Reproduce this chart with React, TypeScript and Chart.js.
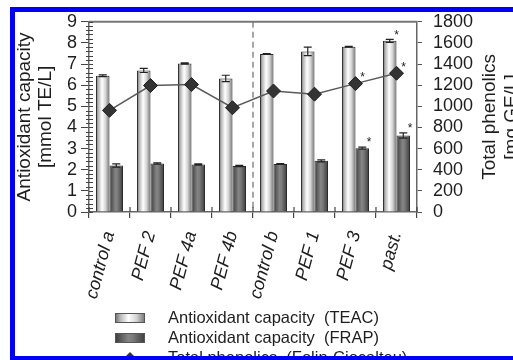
import React, { useEffect, useRef } from 'react';
import { Chart, registerables } from 'chart.js';

Chart.register(...registerables);

const categories = ['control a', 'PEF 2', 'PEF 4a', 'PEF 4b', 'control b', 'PEF 1', 'PEF 3', 'past.'];
const teac = [6.45, 6.7, 7.03, 6.32, 7.48, 7.6, 7.82, 8.1];
const teacErr = [0.04, 0.1, 0.03, 0.15, 0.02, 0.2, 0.02, 0.07];
const frap = [2.2, 2.3, 2.25, 2.18, 2.27, 2.42, 3.02, 3.62];
const frapErr = [0.08, 0.03, 0.03, 0.03, 0.02, 0.05, 0.05, 0.12];
const phenolics = [962, 1197, 1206, 987, 1145, 1115, 1215, 1313];
const teacSig = [false, false, false, false, false, false, false, true];
const frapSig = [false, false, false, false, false, false, true, true];
const phenSig = [false, false, false, false, false, false, true, true];
const leftMax = 9;
const leftStep = 1;
const rightMax = 1800;
const rightStep = 200;
const dividerAfterIndex = 3;
const leftTitle = ['Antioxidant capacity', '[mmol TE/L]'];
const rightTitle = ['Total phenolics', '[mg GE/L]'];
const legendLabels = [
  'Antioxidant capacity  (TEAC)',
  'Antioxidant capacity  (FRAP)',
  'Total phenolics  (Folin-Ciocalteu)',
];

const FONT = '"Liberation Sans", Arial, sans-serif';
const W = 513;
const H = 360;

function teacGradient(ctx: CanvasRenderingContext2D, x0: number, x1: number) {
  const g = ctx.createLinearGradient(x0, 0, x1, 0);
  g.addColorStop(0, '#6a6a6a');
  g.addColorStop(0.18, '#b8b8b8');
  g.addColorStop(0.45, '#ffffff');
  g.addColorStop(0.72, '#d2d2d2');
  g.addColorStop(1, '#707070');
  return g;
}
function frapGradient(ctx: CanvasRenderingContext2D, x0: number, x1: number) {
  const g = ctx.createLinearGradient(x0, 0, x1, 0);
  g.addColorStop(0, '#3c3c3c');
  g.addColorStop(0.45, '#858585');
  g.addColorStop(0.6, '#7a7a7a');
  g.addColorStop(1, '#3c3c3c');
  return g;
}

const decorPlugin = {
  id: 'decor',
  afterDatasetsUpdate(chart: any) {
    const ctx = chart.ctx;
    [1, 2].forEach((di) => {
      const meta = chart.getDatasetMeta(di);
      meta.data.forEach((el: any) => {
        const x0 = el.x - el.width / 2;
        const x1 = el.x + el.width / 2;
        const bg = di === 1 ? teacGradient(ctx, x0, x1) : frapGradient(ctx, x0, x1);
        el.options = { ...el.options, backgroundColor: bg };
      });
    });
  },
  beforeDatasetsDraw(chart: any) {
    const ctx = chart.ctx;
    const { top, bottom } = chart.chartArea;
    const xs = chart.scales.x;
    const xd = (xs.getPixelForValue(dividerAfterIndex) + xs.getPixelForValue(dividerAfterIndex + 1)) / 2;
    ctx.save();
    ctx.strokeStyle = '#8a8a8a';
    ctx.lineWidth = 1.5;
    ctx.setLineDash([6, 4]);
    ctx.beginPath();
    ctx.moveTo(xd, top);
    ctx.lineTo(xd, bottom);
    ctx.stroke();
    ctx.restore();
  },
  afterDatasetsDraw(chart: any) {
    const ctx = chart.ctx;
    const ys = chart.scales.y;
    ctx.save();
    ctx.strokeStyle = '#222';
    ctx.lineWidth = 1.2;
    const errs = [teacErr, frapErr];
    const vals = [teac, frap];
    [1, 2].forEach((di, k) => {
      const meta = chart.getDatasetMeta(di);
      meta.data.forEach((el: any, i: number) => {
        const yHi = ys.getPixelForValue(vals[k][i] + errs[k][i]);
        const yLo = ys.getPixelForValue(vals[k][i] - errs[k][i]);
        ctx.beginPath();
        ctx.moveTo(el.x, yHi);
        ctx.lineTo(el.x, yLo);
        ctx.moveTo(el.x - 4, yHi);
        ctx.lineTo(el.x + 4, yHi);
        ctx.moveTo(el.x - 4, yLo);
        ctx.lineTo(el.x + 4, yLo);
        ctx.stroke();
      });
    });
    ctx.fillStyle = '#222';
    ctx.font = `12px ${FONT}`;
    ctx.textAlign = 'center';
    ctx.textBaseline = 'middle';
    const sigs = [teacSig, frapSig];
    [1, 2].forEach((di, k) => {
      const meta = chart.getDatasetMeta(di);
      meta.data.forEach((el: any, i: number) => {
        if (!sigs[k][i]) return;
        const yTop = ys.getPixelForValue(vals[k][i] + errs[k][i]);
        ctx.fillText('*', el.x + el.width / 2, yTop - 4);
      });
    });
    const lm = chart.getDatasetMeta(0);
    lm.data.forEach((pt: any, i: number) => {
      if (!phenSig[i]) return;
      ctx.fillText('*', pt.x + 7, pt.y - 6);
    });
    ctx.restore();
  },
  afterDraw(chart: any) {
    const ctx = chart.ctx;
    const { left, right, top, bottom } = chart.chartArea;
    const ys = chart.scales.y;
    const xs = chart.scales.x;
    ctx.save();
    ctx.strokeStyle = '#777';
    ctx.lineWidth = 2;
    ctx.beginPath();
    ctx.moveTo(left, top);
    ctx.lineTo(right, top);
    ctx.stroke();
    ctx.strokeStyle = '#444';
    ctx.lineWidth = 1;
    for (let i = 0; i <= leftMax * 5; i++) {
      const y = Math.round(ys.getPixelForValue(i * 0.2)) + 0.5;
      ctx.beginPath();
      if (i % 5 === 0) {
        ctx.moveTo(left, y);
        ctx.lineTo(left + 4, y);
      } else {
        ctx.moveTo(left - 3, y);
        ctx.lineTo(left + 4, y);
      }
      ctx.stroke();
    }
    ctx.lineWidth = 1.2;
    for (let k = 0; k <= categories.length; k++) {
      let x;
      if (k === 0) x = left;
      else if (k === categories.length) x = right;
      else x = (xs.getPixelForValue(k - 1) + xs.getPixelForValue(k)) / 2;
      ctx.beginPath();
      ctx.moveTo(x, bottom);
      ctx.lineTo(x, bottom - 5);
      ctx.stroke();
    }
    ctx.fillStyle = '#1e1e1e';
    ctx.font = `19px ${FONT}`;
    ctx.textAlign = 'center';
    ctx.textBaseline = 'middle';
    const cy = (top + bottom) / 2;
    const drawRot = (text: string, x: number) => {
      ctx.save();
      ctx.translate(x, cy);
      ctx.rotate(-Math.PI / 2);
      ctx.fillText(text, 0, 0);
      ctx.restore();
    };
    drawRot(leftTitle[0], 25);
    drawRot(leftTitle[1], 46);
    drawRot(rightTitle[0], 490);
    drawRot(rightTitle[1], 512);
    const sx = 115;
    const sw = 30;
    const tx = 168;
    const rows = [318, 338, 358];
    ctx.font = `16.5px ${FONT}`;
    ctx.textAlign = 'left';
    rows.forEach((ry, i) => {
      if (i < 2) {
        ctx.fillStyle = i === 0 ? teacGradient(ctx, sx, sx + sw) : frapGradient(ctx, sx, sx + sw);
        ctx.fillRect(sx, ry - 5, sw, 10);
        ctx.strokeStyle = '#555';
        ctx.lineWidth = 1;
        ctx.strokeRect(sx + 0.5, ry - 4.5, sw - 1, 9);
      } else {
        ctx.strokeStyle = '#555';
        ctx.lineWidth = 1.5;
        ctx.beginPath();
        ctx.moveTo(sx, ry);
        ctx.lineTo(sx + sw, ry);
        ctx.stroke();
        ctx.fillStyle = '#333';
        ctx.beginPath();
        ctx.moveTo(sx + sw / 2, ry - 6);
        ctx.lineTo(sx + sw / 2 + 6, ry);
        ctx.lineTo(sx + sw / 2, ry + 6);
        ctx.lineTo(sx + sw / 2 - 6, ry);
        ctx.closePath();
        ctx.fill();
      }
      ctx.fillStyle = '#1e1e1e';
      ctx.fillText(legendLabels[i], tx, ry);
    });
    ctx.restore();
  },
};

export default function App() {
  const ref = useRef<HTMLCanvasElement | null>(null);
  useEffect(() => {
    if (!ref.current) return;
    const chart = new Chart(ref.current, {
      type: 'bar',
      data: {
        labels: categories,
        datasets: [
          {
            type: 'line',
            label: legendLabels[2],
            data: phenolics,
            yAxisID: 'y1',
            borderColor: '#5a5a5a',
            borderWidth: 1.5,
            pointStyle: 'rectRot',
            pointRadius: 7,
            pointBackgroundColor: '#333',
            pointBorderColor: '#222',
            pointBorderWidth: 1,
            tension: 0,
            order: 0,
          } as any,
          {
            type: 'bar',
            label: legendLabels[0],
            data: teac,
            yAxisID: 'y',
            backgroundColor: '#ddd',
            borderColor: '#2a2a2a',
            borderWidth: 1,
            categoryPercentage: 0.66,
            barPercentage: 1,
            order: 1,
          },
          {
            type: 'bar',
            label: legendLabels[1],
            data: frap,
            yAxisID: 'y',
            backgroundColor: '#777',
            borderColor: '#2a2a2a',
            borderWidth: 1,
            categoryPercentage: 0.66,
            barPercentage: 1,
            order: 2,
          },
        ],
      },
      options: {
        animation: false,
        responsive: false,
        devicePixelRatio: 1,
        layout: { padding: { top: 14, left: 0, right: 0, bottom: 0 } },
        plugins: { legend: { display: false }, tooltip: { enabled: false } },
        scales: {
          x: {
            type: 'category',
            offset: true,
            afterFit: (s: any) => {
              s.height = H - 212;
            },
            grid: { offset: true, drawOnChartArea: false, drawTicks: true, tickLength: 6, color: '#444', lineWidth: 1.2 },
            border: { color: '#666', width: 1.5 },
            ticks: {
              autoSkip: false,
              minRotation: 75,
              maxRotation: 75,
              padding: 11,
              color: '#1e1e1e',
              font: { family: FONT, size: 18, style: 'italic' },
            },
          },
          y: {
            position: 'left',
            min: 0,
            max: leftMax,
            afterFit: (s: any) => {
              s.width = 89;
            },
            grid: { drawOnChartArea: false, drawTicks: true, tickLength: 8, color: '#444' },
            border: { color: '#666', width: 1.5 },
            ticks: {
              stepSize: leftStep,
              autoSkip: false,
              padding: 4,
              color: '#1e1e1e',
              font: { family: FONT, size: 18 },
              callback: (v: any) => String(v),
            },
          },
          y1: {
            position: 'right',
            min: 0,
            max: rightMax,
            afterFit: (s: any) => {
              s.width = W - 417;
            },
            grid: { drawOnChartArea: false, drawTicks: true, tickLength: 5, color: '#555' },
            border: { color: '#666', width: 1.5 },
            ticks: {
              stepSize: rightStep,
              autoSkip: false,
              padding: 11,
              color: '#1e1e1e',
              font: { family: FONT, size: 18 },
              callback: (v: any) => String(v),
            },
          },
        },
      },
      plugins: [decorPlugin],
    });
    return () => chart.destroy();
  }, []);

  const blue = '#0000f6';
  return (
    <div style={{ position: 'fixed', left: 0, top: 0, width: W, height: H, background: '#fff', overflow: 'hidden' }}>
      <canvas ref={ref} width={W} height={H} style={{ position: 'absolute', left: 0, top: 0, width: W, height: H }} />
      <div style={{ position: 'absolute', left: 0, top: 0, width: W, height: 7, background: '#fff' }} />
      <div style={{ position: 'absolute', left: 0, top: 0, width: 10, height: H, background: '#fff' }} />
      <div style={{ position: 'absolute', left: 10, top: 7, width: W - 10, height: 5, background: blue }} />
      <div style={{ position: 'absolute', left: 10, top: 7, width: 5, height: H - 7, background: blue }} />
      <div style={{ position: 'absolute', left: 10, top: 356, width: W - 10, height: 4, background: blue }} />
    </div>
  );
}
